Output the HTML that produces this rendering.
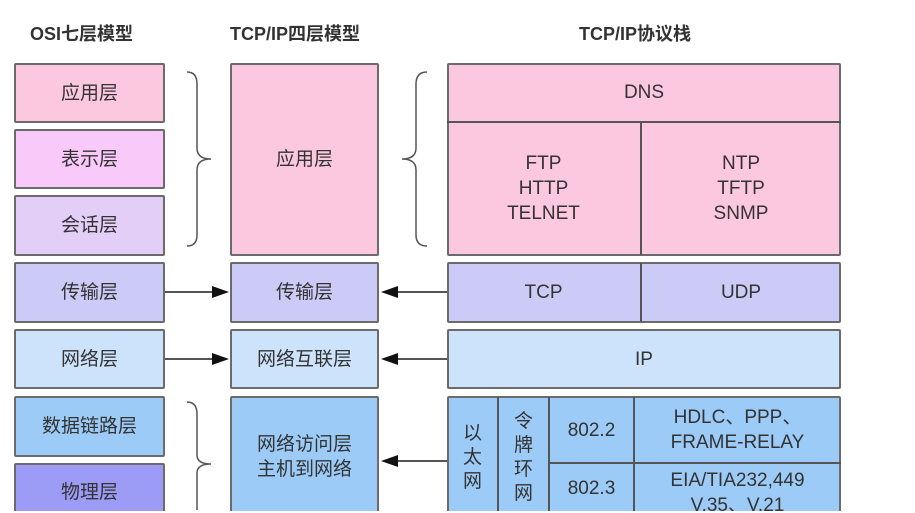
<!DOCTYPE html>
<html><head><meta charset="utf-8"><style>
html,body{margin:0;padding:0;background:#fff;width:915px;height:513px;overflow:hidden;position:relative;font-family:"Liberation Sans","Noto Sans CJK SC",sans-serif;}
.b{position:absolute;box-sizing:border-box;border:2px solid #6b6b6b;border-radius:2px;display:flex;align-items:center;justify-content:center;text-align:center;font-size:19px;color:#333;line-height:25px;}
.t{position:absolute;font-weight:bold;font-size:18px;color:#333;}
.c{position:absolute;display:flex;align-items:center;justify-content:center;text-align:center;font-size:19px;color:#333;line-height:25px;box-sizing:border-box;}
</style></head><body>
<div class="t" style="left:30px;top:20px">OSI七层模型</div>
<div class="t" style="left:230px;top:20px">TCP/IP四层模型</div>
<div class="t" style="left:579px;top:20px">TCP/IP协议栈</div>

<div class="b" style="left:14px;top:63px;width:151px;height:60px;background:#fcc8e0">应用层</div>
<div class="b" style="left:14px;top:129px;width:151px;height:60px;background:#f9c9f9">表示层</div>
<div class="b" style="left:14px;top:195px;width:151px;height:61px;background:#e2cef6">会话层</div>
<div class="b" style="left:14px;top:262px;width:151px;height:61px;background:#cccbf7">传输层</div>
<div class="b" style="left:14px;top:329px;width:151px;height:60px;background:#cde3fb">网络层</div>
<div class="b" style="left:14px;top:396px;width:151px;height:61px;background:#9ccbf7">数据链路层</div>
<div class="b" style="left:14px;top:463px;width:151px;height:50px;background:#9c9cf7;padding-top:8px">物理层</div>

<div class="b" style="left:230px;top:63px;width:149px;height:193px;background:#fcc8e0">应用层</div>
<div class="b" style="left:230px;top:262px;width:149px;height:61px;background:#cccbf7">传输层</div>
<div class="b" style="left:230px;top:329px;width:149px;height:60px;background:#cde3fb">网络互联层</div>
<div class="b" style="left:230px;top:396px;width:149px;height:130px;background:#9ccbf7;padding-bottom:8px">网络访问层<br>主机到网络</div>

<div class="b" style="left:447px;top:63px;width:394px;height:193px;background:#fcc8e0;display:block"></div>
<div class="c" style="left:447px;top:63px;width:394px;height:59px">DNS</div>
<div style="position:absolute;left:447px;top:121px;width:394px;height:2px;background:#555"></div>
<div style="position:absolute;left:640px;top:122px;width:2px;height:133px;background:#555"></div>
<div class="c" style="left:447px;top:122px;width:193px;height:133px">FTP<br>HTTP<br>TELNET</div>
<div class="c" style="left:642px;top:122px;width:198px;height:133px">NTP<br>TFTP<br>SNMP</div>

<div class="b" style="left:447px;top:262px;width:394px;height:61px;background:#cccbf7;display:block"></div>
<div style="position:absolute;left:640px;top:263px;width:2px;height:59px;background:#555"></div>
<div class="c" style="left:447px;top:262px;width:193px;height:61px">TCP</div>
<div class="c" style="left:642px;top:262px;width:198px;height:61px">UDP</div>

<div class="b" style="left:447px;top:329px;width:394px;height:60px;background:#cde3fb">IP</div>

<div class="b" style="left:447px;top:396px;width:394px;height:130px;background:#9ccbf7;display:block"></div>
<div style="position:absolute;left:497px;top:397px;width:2px;height:116px;background:#555"></div>
<div style="position:absolute;left:548px;top:397px;width:2px;height:116px;background:#555"></div>
<div style="position:absolute;left:633px;top:397px;width:2px;height:116px;background:#555"></div>
<div style="position:absolute;left:549px;top:462px;width:292px;height:2px;background:#555"></div>
<div class="c" style="left:447px;top:418px;width:51px;height:80px;line-height:24px">以<br>太<br>网</div>
<div class="c" style="left:498px;top:408px;width:51px;height:100px;line-height:24px">令<br>牌<br>环<br>网</div>
<div class="c" style="left:549px;top:397px;width:85px;height:66px">802.2</div>
<div class="c" style="left:549px;top:463px;width:85px;height:50px">802.3</div>
<div class="c" style="left:635px;top:397px;width:205px;height:66px">HDLC、PPP、<br>FRAME-RELAY</div>
<div class="c" style="left:635px;top:468px;width:205px;height:50px;align-items:flex-start">EIA/TIA232,449<br>V.35、V.21</div>

<svg style="position:absolute;left:0;top:0" width="915" height="513">
<g fill="none" stroke="#555" stroke-width="1.5">
<path d="M187,72 Q197,72 197,84 L197,148 Q197,159 211,159 Q197,159 197,170 L197,235 Q197,246 187,246"/>
<path d="M187,402 Q197,402 197,414 L197,455 Q197,464 211,464 Q197,464 197,473 L197,510"/>
<path d="M427,72 Q416,72 416,84 L416,148 Q416,159 402,159 Q416,159 416,170 L416,235 Q416,246 427,246"/>
</g>
<g stroke="#555" stroke-width="2">
<line x1="165" y1="292" x2="215" y2="292"/>
<line x1="165" y1="359" x2="215" y2="359"/>
<line x1="395" y1="292" x2="447" y2="292"/>
<line x1="395" y1="359" x2="447" y2="359"/>
<line x1="395" y1="461" x2="447" y2="461"/>
</g>
<g fill="#111">
<polygon points="229,292 212,286 212,298"/>
<polygon points="229,359 212,353 212,365"/>
<polygon points="381,292 398,286 398,298"/>
<polygon points="381,359 398,353 398,365"/>
<polygon points="381,461 398,455 398,467"/>
</g>
</svg>
<div style="position:absolute;left:0;top:511px;width:915px;height:2px;background:#fff"></div>
</body></html>
